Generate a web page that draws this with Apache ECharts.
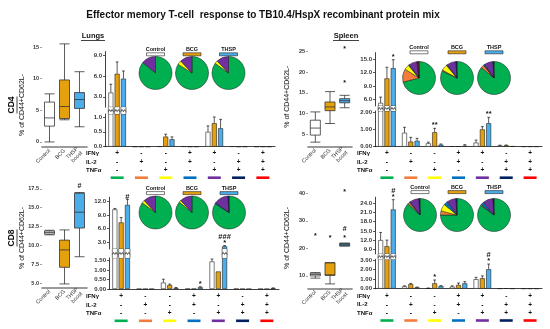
<!DOCTYPE html>
<html><head><meta charset="utf-8">
<script src="https://cdn.jsdelivr.net/npm/echarts@6/dist/echarts.min.js"></script>
<style>html,body{margin:0;padding:0;background:#fff}#c{width:550px;height:329px}</style>
</head><body><div id="c"></div><script>
// ---------------- DATA ----------------
const groups = ['Control', 'BCG', 'THSP boost'];
const pieGroups = ['Control', 'BCG', 'THSP'];
const subsets = ['IFNγ+', 'IL-2+', 'TNFα+', 'IFNγ+IL-2+', 'IFNγ+TNFα+', 'IL-2+TNFα+', 'IFNγ+IL-2+TNFα+'];
const ifngRow = ['+', '-', '-', '+', '+', '-', '+'];
const il2Row  = ['-', '+', '-', '+', '-', '+', '+'];
const tnfRow  = ['-', '-', '+', '-', '+', '+', '+'];
const rowNames = ['IFNγ', 'IL-2', 'TNFα'];
const subsetColors = ['#00B050', '#F47C3C', '#FFFF00', '#0070C0', '#7030A0', '#002060', '#FF0000'];
const groupColors = ['#FFFFFF', '#E5A00D', '#4BAEEA'];

// boxplots [min, q1, median, q3, max]
const boxCD4Lungs  = [[0, 2.5, 3.8, 6.3, 7.6], [3.5, 3.7, 5.6, 9.8, 15.5], [2.4, 5.3, 6.7, 7.8, 11.1]];
const boxCD4Spleen = [[3.1, 4.8, 6.5, 8.4, 10.4], [7.6, 10.7, 11.6, 12.8, 15.3], [11.4, 12.6, 13.1, 13.6, 14.4]];
const boxCD8Lungs  = [[11.4, 11.5, 11.7, 11.9, 12.0], [4.9, 7.1, 9.4, 10.7, 12.05], [8.5, 12.3, 14.4, 16.9, 17.0]];
const boxCD8Spleen = [[9.2, 10.0, 10.5, 11.0, 11.2], [7.1, 10.2, 10.4, 14.8, 14.8], [20.9, 20.9, 21.4, 21.9, 21.9]];
// box text marks [group, value, text]
const boxMarksCD4Lungs  = [];
const boxMarksCD4Spleen = [[2, 25.5, '*'], [2, 17.3, '*']];
const boxMarksCD8Lungs  = [[2, 17.9, '#']];
const boxMarksCD8Spleen = [[0, 24.5, '*'], [1, 23.7, '*'], [2, 40.4, '*'], [2, 23.8, '*'], [2, 27.0, '#']];

// bar means / errors : [Control, BCG, THSP] x 7 subsets
const cd4LungsMean = [[3.6, 0, 0.01, 0.01, 0.5, 0.01, 0], [6.3, 0, 0.34, 0, 0.79, 0, 0], [5.6, 0, 0.25, 0, 0.62, 0, 0]];
const cd4LungsErr  = [[1.2, 0, 0, 0, 0.2, 0, 0], [1.7, 0, 0.08, 0, 0.21, 0, 0], [1.1, 0, 0.08, 0, 0.3, 0, 0]];
const cd4SpleenMean = [[5.2, 0.82, 0.2, 0.02, 0.24, 0.07, 0.01], [10.7, 0.3, 0.85, 0.02, 1.02, 0.08, 0.01], [13.0, 0.35, 0.12, 0.06, 1.38, 0.03, 0.01]];
const cd4SpleenErr  = [[1.3, 0.32, 0.07, 0, 0.15, 0.02, 0], [2.5, 0.25, 0.23, 0, 0.16, 0.02, 0], [1.9, 0.14, 0.04, 0.06, 0.35, 0, 0]];
const cd8LungsMean = [[10.3, 0, 0.34, 0.01, 1.46, 0.01, 0], [7.4, 0, 0.21, 0.01, 0.93, 0, 0], [11.3, 0, 0.05, 0.09, 2.1, 0, 0.04]];
const cd8LungsErr  = [[0.2, 0, 0.18, 0, 0.13, 0, 0], [1.1, 0, 0.05, 0, 0, 0, 0], [1.2, 0, 0.03, 0.03, 0.15, 0, 0.02]];
const cd8SpleenMean = [[12.0, 0.25, 0.05, 0.22, 1.0, 0.02, 0.01], [10.0, 0.48, 0.57, 0.4, 1.1, 0.04, 0.01], [22.0, 0.14, 0.28, 0.57, 2.05, 0.01, 0.01]];
const cd8SpleenErr  = [[2.5, 0.05, 0.02, 0.08, 0.2, 0, 0], [2.0, 0.08, 0.35, 0.2, 0.25, 0, 0], [3.2, 0.03, 0.04, 0.18, 0.55, 0, 0]];
// significance [subset, group, text]
const sigCD4Lungs  = [];
const sigCD4Spleen = [[0, 2, '*'], [2, 1, '**'], [4, 2, '**']];
const sigCD8Lungs  = [[0, 2, '#'], [3, 2, '*'], [4, 2, '###\n*']];
const sigCD8Spleen = [[0, 2, '#\n*'], [2, 1, '*'], [4, 2, '#\n*']];

// pies: proportions per subset (green, orange, yellow, blue, purple, navy, red)
const pieCD4Lungs  = [[86, 0, 0, 0, 14, 0, 0], [84, 0, 4, 0, 12, 0, 0], [85, 0, 3, 0, 12, 0, 0]];
const pieCD4Spleen = [[71, 13, 5, 1, 8, 1.5, 0.5], [82, 1, 6, 1, 9, 1, 0], [86, 3, 0.5, 1, 8.5, 1, 0]];
const pieCD8Lungs  = [[85, 0, 3, 0, 12, 0, 0], [86, 0, 2, 0, 12, 0, 0], [84, 0, 0, 1, 14, 1, 0]];
const pieCD8Spleen = [[87, 2, 0, 1, 9, 1, 0], [75, 4, 7, 4, 9, 1, 0], [85, 1, 0, 3, 10, 1, 0]];

// ---------------- LAYOUT ----------------
const FONT = "'Liberation Sans', Arial, Helvetica, sans-serif";
const BAR_W = 5, BAR_STEP = 6.3;

const panels = [
  { box: { grid: { left: 42, top: 40.7, width: 45, height: 106.3 }, range: [-0.8, 16], ticks: [0, 5, 10, 15], dec: 0, data: boxCD4Lungs, marks: boxMarksCD4Lungs },
    upper: { grid: { left: 105, top: 51.5, width: 170, height: 55.7 }, range: [1.5, 9.5], ticks: [3, 6, 9], dec: 1 },
    lower: { grid: { left: 105, top: 114, width: 170, height: 32.7 }, range: [0, 1.1], ticks: [0, 0.5, 1], dec: 1 },
    mean: cd4LungsMean, err: cd4LungsErr, sig: sigCD4Lungs, pies: pieCD4Lungs, pieX: [155.5, 192, 228.5], pieY: 73, legendY: 49.5, rowX: 86, rowMargin: 2.5 },
  { box: { grid: { left: 308, top: 47.3, width: 44, height: 99.4 }, range: [2, 26], ticks: [5, 10, 15, 20, 25], dec: 0, data: boxCD4Spleen, marks: boxMarksCD4Spleen },
    upper: { grid: { left: 375, top: 52.6, width: 167, height: 53.4 }, range: [4.5, 16.5], ticks: [6, 9, 12, 15], dec: 1 },
    lower: { grid: { left: 375, top: 111, width: 167, height: 35.7 }, range: [0, 2.1], ticks: [0, 1, 2], dec: 2 },
    mean: cd4SpleenMean, err: cd4SpleenErr, sig: sigCD4Spleen, pies: pieCD4Spleen, pieX: [419, 457, 494], pieY: 78, legendY: 47.5, rowX: 357, rowMargin: 2.5 },
  { box: { grid: { left: 42, top: 181.2, width: 45, height: 106.5 }, range: [4.4, 18.5], ticks: [5, 7.5, 10, 12.5, 15, 17.5], dec: 1, data: boxCD8Lungs, marks: boxMarksCD8Lungs },
    upper: { grid: { left: 109, top: 197.2, width: 170, height: 51.8 }, range: [1.5, 13], ticks: [3, 6, 9, 12], dec: 1 },
    lower: { grid: { left: 109, top: 257.9, width: 170, height: 31.1 }, range: [0, 1.65], ticks: [0, 0.5, 1, 1.5], dec: 2 },
    mean: cd8LungsMean, err: cd8LungsErr, sig: sigCD8Lungs, pies: pieCD8Lungs, pieX: [155.5, 192, 229], pieY: 212.5, legendY: 188.3, rowX: 86, rowMargin: 3.3 },
  { box: { grid: { left: 308, top: 188, width: 44, height: 100.3 }, range: [5.5, 42], ticks: [10, 20, 30, 40], dec: 0, data: boxCD8Spleen, marks: boxMarksCD8Spleen },
    upper: { grid: { left: 375, top: 197.2, width: 167, height: 56.7 }, range: [7.5, 26], ticks: [9, 12, 15, 18, 21, 24], dec: 1 },
    lower: { grid: { left: 375, top: 259.3, width: 167, height: 29.4 }, range: [0, 3.1], ticks: [0, 1, 2, 3], dec: 2 },
    mean: cd8SpleenMean, err: cd8SpleenErr, sig: sigCD8Spleen, pies: pieCD8Spleen, pieX: [420, 457, 494], pieY: 215, legendY: 187.3, rowX: 357, rowMargin: 3.3 }
];

const option = { animation: false, backgroundColor: '#fff', textStyle: { fontFamily: FONT },
  grid: [], xAxis: [], yAxis: [], series: [], graphic: [] };

function addGrid(g) {
  option.grid.push({ left: g.left, top: g.top, width: g.width, height: g.height, containLabel: false, outerBoundsMode: 'none' });
  return option.grid.length - 1;
}
function valueAxis(gi, cfg, lineShow, fontSize) {
  return { gridIndex: gi, type: 'value', min: cfg.range[0], max: cfg.range[1], splitLine: { show: false },
    axisLine: { show: lineShow, onZero: false, lineStyle: { color: '#111', width: 0.8 } },
    axisTick: { show: true, length: 2, customValues: cfg.ticks, lineStyle: { color: lineShow ? '#111' : '#777', width: 0.7 } },
    axisLabel: { customValues: cfg.ticks, formatter: v => Number(v).toFixed(cfg.dec), fontSize: fontSize, fontWeight: 'bold', color: '#333', margin: 3, fontFamily: FONT } };
}
function textMarkSeries(gi, items, fontSize) {
  return { type: 'custom', xAxisIndex: gi, yAxisIndex: gi, z: 5, silent: true,
    data: items.map(d => [d[0], d[1]]),
    renderItem: function (params, api) {
      const p = api.coord([api.value(0), api.value(1)]);
      const it = items[params.dataIndex];
      const dx = it[3] || 0;
      return { type: 'text', x: p[0] + dx, y: p[1], style: { text: it[2], fontSize: fontSize, fontWeight: 'bold', fontFamily: FONT, fill: '#111', align: 'center', verticalAlign: it[4] || 'middle', lineHeight: 6 } };
    } };
}

panels.forEach(P => {
  // ---- box plot ----
  const bg = addGrid(P.box.grid);
  option.xAxis.push({ gridIndex: bg, type: 'category', data: groups, boundaryGap: true,
    axisLine: { onZero: false, lineStyle: { color: '#7a7a7a', width: 1.6 } }, axisTick: { show: false },
    axisLabel: { rotate: 45, interval: 0, fontSize: 5.5, margin: 3, color: '#333', lineHeight: 6, fontFamily: FONT, formatter: v => v.replace(' ', '\n') } });
  option.yAxis.push(valueAxis(bg, P.box, false, 5.5));
  option.series.push({ type: 'boxplot', xAxisIndex: bg, yAxisIndex: bg, boxWidth: [10, 10], silent: true,
    data: P.box.data.map((d, i) => ({ value: d, itemStyle: { color: groupColors[i], borderColor: '#333', borderWidth: 0.8 } })) });
  if (P.box.marks.length) option.series.push(textMarkSeries(bg, P.box.marks, 7));

  // ---- broken-axis bars ----
  const ug = addGrid(P.upper.grid), lg = addGrid(P.lower.grid);
  const gap = P.lower.grid.top - (P.upper.grid.top + P.upper.grid.height);
  const lowMax = P.lower.range[1];
  option.xAxis.push({ gridIndex: ug, type: 'category', data: subsets, show: false });
  option.yAxis.push(valueAxis(ug, P.upper, true, 6));
  const rich = { s: { fontSize: 6.5, fontWeight: 'bold', lineHeight: 8.5, color: '#111', fontFamily: FONT } };
  subsetColors.forEach((c, k) => { rich['c' + k] = { backgroundColor: c, width: 13, height: 2.6, lineHeight: 6 }; });
  option.xAxis.push({ gridIndex: lg, type: 'category', data: subsets,
    axisLine: { onZero: false, lineStyle: { color: '#111', width: 0.8 } }, axisTick: { show: false },
    axisLabel: { interval: 0, margin: P.rowMargin, rich: rich,
      formatter: (v, i) => '{s|' + ifngRow[i] + '}\n{s|' + il2Row[i] + '}\n{s|' + tnfRow[i] + '}\n{c' + i + '|}' } });
  option.yAxis.push(valueAxis(lg, P.lower, true, 6));

  [0, 1, 2].forEach(g => {
    option.series.push({ type: 'bar', xAxisIndex: ug, yAxisIndex: ug, barWidth: BAR_W, barGap: '26%', clip: true, silent: true,
      data: P.mean[g].map(v => v > lowMax ? v : '-'), itemStyle: { color: groupColors[g], borderColor: '#222', borderWidth: 0.6 } });
    option.series.push({ type: 'bar', xAxisIndex: lg, yAxisIndex: lg, barWidth: BAR_W, barGap: '26%', clip: true, silent: true,
      data: P.mean[g].slice(), itemStyle: { color: groupColors[g], borderColor: '#222', borderWidth: 0.6 } });
  });

  // error bars
  const errData = [];
  [0, 1, 2].forEach(g => P.mean[g].forEach((m, i) => errData.push([i, m, P.err[g][i], g])));
  [[ug, P.upper.range, true], [lg, P.lower.range, false]].forEach(([gi, rng, isUpper]) => {
    option.series.push({ type: 'custom', xAxisIndex: gi, yAxisIndex: gi, z: 4, silent: true, data: errData,
      renderItem: function (params, api) {
        const i = api.value(0), m = api.value(1), e = api.value(2), g = api.value(3);
        if (!(e > 0)) return null;
        const here = isUpper ? (m > lowMax) : (m <= lowMax);
        if (!here) return null;
        const t = Math.min(m + e, rng[1]);
        const a = api.coord([i, m]), b = api.coord([i, t]);
        const x = a[0] + (g - 1) * BAR_STEP;
        return { type: 'group', children: [
          { type: 'line', shape: { x1: x, y1: a[1], x2: x, y2: b[1] }, style: { stroke: '#111', lineWidth: 0.7 } },
          { type: 'line', shape: { x1: x - 1.4, y1: b[1], x2: x + 1.4, y2: b[1] }, style: { stroke: '#111', lineWidth: 0.7 } } ] };
      } });
  });

  // break marks on bars crossing the gap
  const brk = [];
  [0, 1, 2].forEach(g => P.mean[g].forEach((m, i) => { if (m > lowMax) brk.push([i, lowMax, g]); }));
  option.series.push({ type: 'custom', xAxisIndex: lg, yAxisIndex: lg, z: 4, silent: true, data: brk,
    renderItem: function (params, api) {
      const i = api.value(0), g = api.value(2);
      const a = api.coord([i, api.value(1)]);
      const x = a[0] + (g - 1) * BAR_STEP, y0 = a[1], y1 = a[1] - gap, ym = (y0 + y1) / 2;
      const h = BAR_W / 2;
      return { type: 'group', children: [
        { type: 'rect', shape: { x: x - h, y: y1, width: BAR_W, height: gap }, style: { fill: '#fff' } },
        { type: 'line', shape: { x1: x - h, y1: y1, x2: x - h, y2: y0 }, style: { stroke: '#222', lineWidth: 0.6 } },
        { type: 'line', shape: { x1: x + h, y1: y1, x2: x + h, y2: y0 }, style: { stroke: '#222', lineWidth: 0.6 } },
        { type: 'polyline', shape: { points: [[x - h, ym + 1], [x - h / 2, ym - 1], [x, ym + 1], [x + h / 2, ym - 1], [x + h, ym + 1]] }, style: { stroke: '#111', lineWidth: 0.7, fill: null } } ] };
    } });

  // significance marks
  const sigU = [], sigL = [];
  P.sig.forEach(s => {
    const top = P.mean[s[1]][s[0]] + P.err[s[1]][s[0]];
    const item = [s[0], top, s[2], (s[1] - 1) * BAR_STEP, 'bottom'];
    if (top > lowMax) sigU.push(item); else sigL.push(item);
  });
  if (sigU.length) option.series.push(textMarkSeries(ug, sigU, 7.5));
  if (sigL.length) option.series.push(textMarkSeries(lg, sigL, 7.5));

  // pies
  P.pies.forEach((vals, g) => {
    option.series.push({ type: 'pie', center: [P.pieX[g], P.pieY], radius: 16.5, startAngle: 90, clockwise: true, silent: true,
      label: { show: false }, labelLine: { show: false }, itemStyle: { borderColor: '#1a1a1a', borderWidth: 0.5 },
      data: vals.map((v, k) => ({ name: subsets[k], value: v, itemStyle: { color: subsetColors[k] } })).filter(d => d.value > 0) });
    option.graphic.push({ type: 'text', x: P.pieX[g], y: P.legendY, silent: true,
      style: { text: pieGroups[g], fontSize: 5.5, fontWeight: 'bold', fontFamily: FONT, fill: '#111', align: 'center', verticalAlign: 'middle' } });
    option.graphic.push({ type: 'rect', x: P.pieX[g] - 9, y: P.legendY + 3.3, shape: { width: 18, height: 3 }, silent: true,
      style: { fill: groupColors[g], stroke: '#222', lineWidth: 0.6 } });
  });

  // row labels
  const axisY = P.lower.grid.top + P.lower.grid.height;
  rowNames.forEach((r, k) => {
    option.graphic.push({ type: 'text', x: P.rowX, y: axisY + P.rowMargin + 4.25 + 8.5 * k, silent: true,
      style: { text: r, fontSize: 6, fontWeight: 'bold', fontFamily: FONT, fill: '#111', align: 'left', verticalAlign: 'middle' } });
  });
});

// titles
function tx(x, y, text, size, weight, extra) {
  return Object.assign({ type: 'text', x: x, y: y, silent: true,
    style: { text: text, fontSize: size, fontWeight: weight, fontFamily: FONT, fill: '#111', align: 'center', verticalAlign: 'middle' } }, extra || {});
}
option.graphic.push(tx(263, 15, 'Effector memory T-cell  response to TB10.4/HspX recombinant protein mix', 10, 'bold'));
option.graphic.push(tx(93, 36, 'Lungs', 7.5, 'bold'));
option.graphic.push({ type: 'line', silent: true, shape: { x1: 81, y1: 40.5, x2: 105, y2: 40.5 }, style: { stroke: '#111', lineWidth: 0.8 } });
option.graphic.push(tx(346, 36, 'Spleen', 7.5, 'bold'));
option.graphic.push({ type: 'line', silent: true, shape: { x1: 333, y1: 40.5, x2: 359, y2: 40.5 }, style: { stroke: '#111', lineWidth: 0.8 } });

[['CD4', 105, 96.7, 287], ['CD8', 238, 238, 287]].forEach(([lab, yc, yr, xr]) => {
  option.graphic.push({ type: 'group', x: 12, y: yc, rotation: Math.PI / 2, silent: true, children: [
    { type: 'text', x: 0, y: 0, style: { text: lab, fontSize: 8.5, fontWeight: 'bold', fontFamily: FONT, fill: '#111', align: 'center', verticalAlign: 'middle' } },
    { type: 'line', shape: { x1: -8.5, y1: 5, x2: 8.5, y2: 5 }, style: { stroke: '#111', lineWidth: 0.8 } } ] });
  option.graphic.push({ type: 'group', x: 22, y: yc, rotation: Math.PI / 2, silent: true, children: [
    { type: 'text', x: 0, y: 0, style: { text: '% of CD44+CD62L-', fontSize: 7, fontFamily: FONT, fill: '#111', align: 'center', verticalAlign: 'middle' } } ] });
  option.graphic.push({ type: 'group', x: xr, y: yr, rotation: Math.PI / 2, silent: true, children: [
    { type: 'text', x: 0, y: 0, style: { text: '% of CD44+CD62L-', fontSize: 7, fontFamily: FONT, fill: '#111', align: 'center', verticalAlign: 'middle' } } ] });
});

const chart = echarts.init(document.getElementById('c'), null, { renderer: 'canvas', width: 550, height: 329 });
chart.setOption(option);
</script></body></html>
